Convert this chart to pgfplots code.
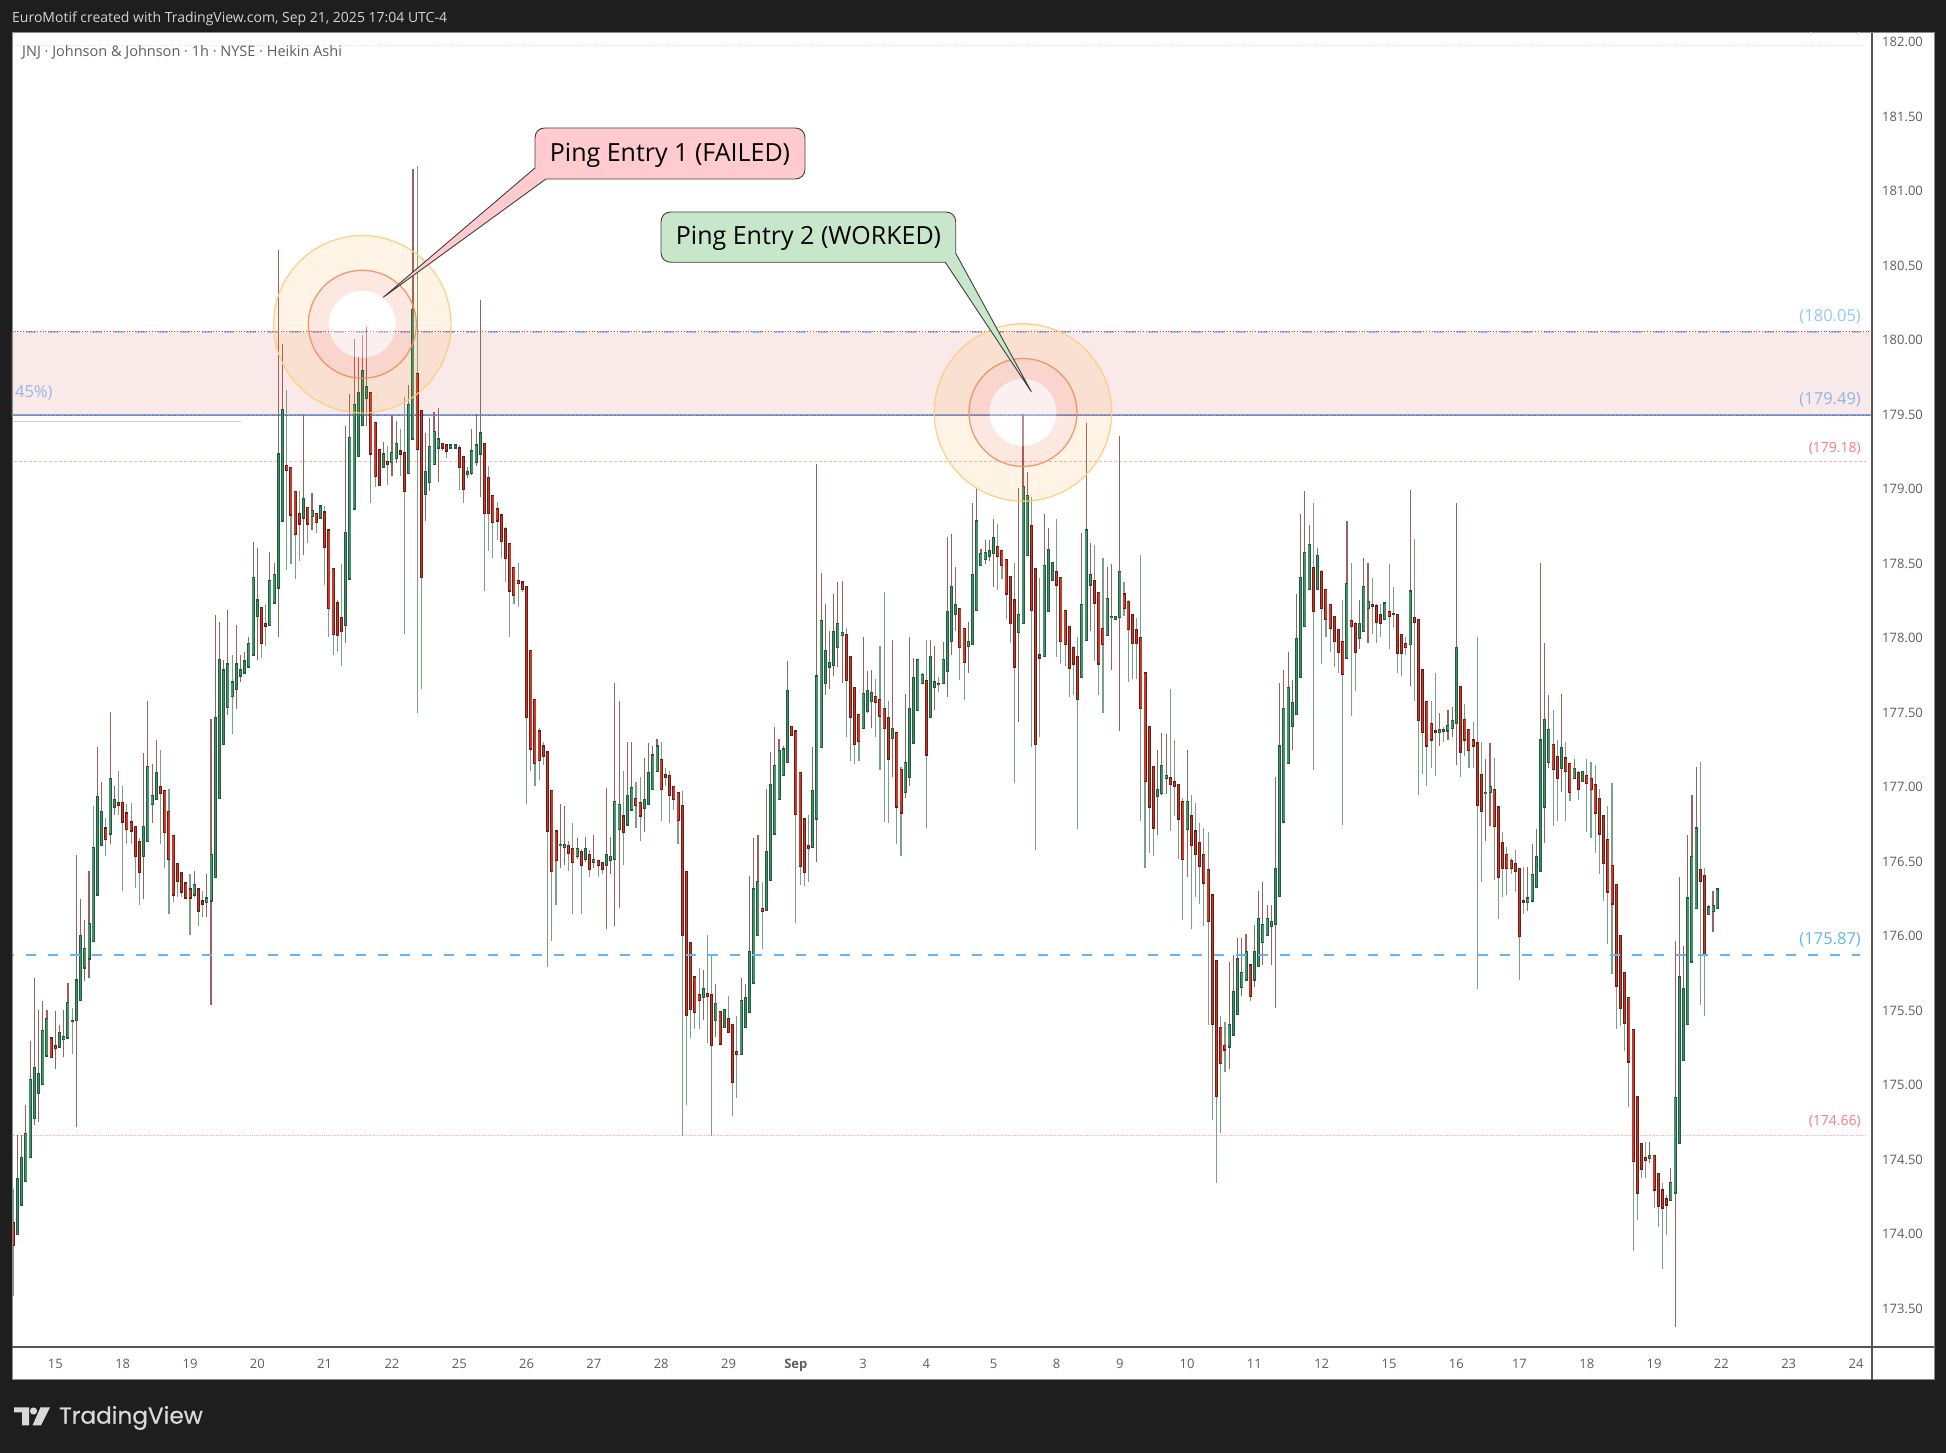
\documentclass[border=0pt]{standalone}
\usepackage{fontspec}
\usepackage{pgfplots}
\usepackage{pgfplotstable}
\pgfplotsset{compat=1.18}
\setmainfont{Open Sans}
\newfontfamily\pop[FakeBold=0.5]{Poppins}
\definecolor{bg}{HTML}{1E1E1E}
\definecolor{panel}{HTML}{8A8A8A}
\definecolor{axisc}{HTML}{555555}
\definecolor{txt}{HTML}{5E5E5E}
\definecolor{upF}{HTML}{46906A}
\definecolor{upD}{HTML}{1F5C3E}
\definecolor{dnF}{HTML}{C93A2C}
\definecolor{dnD}{HTML}{6E1B14}
\definecolor{wR}{HTML}{98625E}
\definecolor{wG}{HTML}{7C9F8C}
\definecolor{blueA}{HTML}{64B5F6}
\definecolor{blueB}{HTML}{90CAF9}
\definecolor{blueC}{HTML}{7BA7E0}
\definecolor{pinkL}{HTML}{FFB3B3}
\definecolor{pinkF}{HTML}{FFDDDD}
\definecolor{redT}{HTML}{F77C80}
\definecolor{band}{HTML}{FAE9E9}
\definecolor{ringA}{HTML}{FF9800}
\definecolor{ringB}{HTML}{F4511E}
\definecolor{edgeA}{HTML}{FFCC80}
\definecolor{edgeB}{HTML}{ED9060}
\definecolor{callR}{HTML}{FFCBCF}
\definecolor{callG}{HTML}{C8E6C9}
\definecolor{lblue}{HTML}{BAD7EC}
\pgfplotstableread{
t b h l g r
174.07 173.92 174.30 173.58 0 0
174.37 173.99 174.66 173.99 1 1
174.51 174.19 174.66 174.19 1 1
174.67 174.35 174.86 174.35 1 1
175.03 174.51 175.29 174.51 1 1
175.11 174.77 175.71 174.73 1 1
175.07 174.94 175.50 174.75 1 1
175.36 175.00 175.56 175.00 1 1
175.44 175.19 175.50 175.19 1 1
175.31 175.18 175.31 175.18 0 1
175.26 175.24 175.49 175.10 0 1
175.35 175.25 175.40 175.25 1 1
175.32 175.30 175.50 175.18 1 1
175.55 175.31 175.68 175.31 1 1
175.43 175.42 175.51 175.20 0 0
175.70 175.43 176.54 174.71 1 1
176.00 175.56 176.24 175.56 1 1
175.91 175.78 176.10 175.69 1 1
176.08 175.84 176.43 175.71 1 1
176.59 175.96 176.87 175.96 1 0
176.93 176.27 177.26 176.27 1 1
176.83 176.60 177.03 176.60 1 1
176.72 176.64 176.79 176.53 0 0
177.05 176.68 177.50 176.61 1 1
176.91 176.86 177.00 176.81 1 1
176.89 176.87 177.10 176.81 0 0
176.89 176.76 177.00 176.30 0 0
176.82 176.71 176.88 176.61 0 0
176.76 176.70 176.89 176.61 0 0
176.73 176.53 176.73 176.32 0 0
176.63 176.42 176.65 176.20 0 0
176.73 176.53 177.22 176.24 1 1
177.13 176.63 177.57 176.63 1 1
176.94 176.88 177.15 176.75 1 1
177.09 176.91 177.31 176.91 1 1
177.00 176.95 177.24 176.61 0 0
176.97 176.69 176.97 176.45 0 0
176.83 176.51 176.98 176.14 0 0
176.67 176.27 176.67 176.22 0 0
176.48 176.36 176.48 176.26 0 0
176.42 176.29 176.42 176.26 0 0
176.35 176.25 176.35 176.25 0 0
176.31 176.25 176.41 176.00 0 0
176.34 176.27 176.43 176.26 1 1
176.31 176.16 176.31 176.06 0 0
176.23 176.21 176.30 176.12 0 0
176.25 176.22 176.41 176.12 1 1
176.54 176.23 177.45 175.53 1 1
177.46 176.39 178.15 176.39 1 1
177.85 176.92 178.10 176.92 1 1
177.78 177.28 177.85 177.28 1 1
177.82 177.53 178.18 177.48 1 1
177.70 177.60 177.88 177.35 1 0
177.82 177.65 178.08 177.52 1 1
177.78 177.74 177.88 177.70 1 1
177.84 177.76 177.90 177.76 1 1
177.96 177.80 178.00 177.80 1 1
178.40 177.88 178.64 177.88 1 1
178.25 178.14 178.60 177.85 1 1
178.20 177.96 178.20 177.86 0 0
178.09 178.07 178.22 177.94 0 0
178.38 178.08 178.57 178.08 1 1
178.42 178.23 178.50 178.23 1 1
179.23 178.33 180.60 178.00 1 1
179.53 178.78 179.97 178.78 1 1
179.15 179.12 179.66 178.45 0 0
179.14 178.82 179.14 178.49 0 0
178.98 178.69 178.98 178.39 0 0
178.83 178.76 178.98 178.51 0 0
178.93 178.80 179.50 178.55 1 1
178.87 178.76 178.87 178.63 0 0
178.85 178.81 178.97 178.72 1 1
178.83 178.77 178.83 178.70 0 0
178.88 178.80 178.88 178.80 1 1
178.84 178.60 178.88 178.35 0 0
178.72 178.19 178.72 178.00 0 0
178.46 178.02 178.46 177.88 0 0
178.23 178.01 178.25 177.90 0 0
178.13 178.04 178.49 177.81 0 0
178.70 178.08 179.42 177.96 1 1
179.34 178.39 179.63 178.39 1 1
179.56 178.86 180.00 178.86 1 1
179.64 179.21 179.88 179.21 1 1
179.79 179.42 180.03 179.42 1 1
179.68 179.60 180.08 179.42 1 1
179.64 179.23 179.64 178.90 0 0
179.44 179.08 179.44 179.01 0 0
179.26 179.02 179.26 179.02 0 0
179.23 179.14 179.31 179.14 1 1
179.18 179.16 179.28 179.02 0 0
179.24 179.17 179.49 179.08 1 1
179.30 179.20 179.45 179.17 1 1
179.25 179.23 179.40 179.08 0 0
179.24 178.98 179.61 178.02 0 0
179.56 179.10 179.69 179.10 1 1
180.20 179.33 181.14 179.33 1 1
179.77 179.26 181.16 177.49 0 0
179.52 178.40 179.52 177.65 0 0
179.11 178.96 179.37 178.78 1 1
179.28 179.04 179.47 178.98 1 1
179.38 179.16 179.51 179.16 1 1
179.33 179.27 179.54 179.04 1 1
179.30 179.27 179.30 179.25 0 0
179.29 179.25 179.29 179.20 0 0
179.29 179.27 179.29 179.27 1 1
179.29 179.27 179.29 179.27 1 1
179.27 179.14 179.29 178.99 0 0
179.21 178.99 179.21 178.90 0 0
179.11 179.09 179.14 179.07 1 1
179.25 179.10 179.40 179.09 1 1
179.29 179.17 179.50 179.15 1 1
179.37 179.23 180.26 178.94 1 1
179.30 178.83 179.30 178.31 0 0
179.07 178.83 179.15 178.58 0 0
178.95 178.77 178.95 178.53 0 0
178.86 178.78 178.91 178.65 0 0
178.82 178.64 178.82 178.53 0 0
178.73 178.53 178.74 178.37 0 0
178.63 178.31 178.63 178.00 0 0
178.47 178.28 178.47 178.22 0 0
178.38 178.36 178.50 178.20 0 0
178.37 178.32 178.37 178.30 0 0
178.34 177.46 178.34 176.88 0 0
177.91 177.25 177.91 177.10 0 0
177.58 177.15 177.58 177.00 0 0
177.37 177.17 177.39 177.04 0 0
177.27 177.20 177.30 177.14 0 0
177.23 176.70 177.23 175.79 0 0
176.97 176.43 176.97 175.96 0 0
176.70 176.50 176.70 176.20 0 0
176.61 176.60 176.88 176.45 1 1
176.61 176.59 176.87 176.47 1 1
176.60 176.55 176.63 176.43 0 0
176.58 176.49 176.75 176.14 0 0
176.58 176.53 176.65 176.51 1 1
176.56 176.47 176.58 176.14 0 0
176.58 176.51 176.66 176.49 1 1
176.54 176.44 176.57 176.39 0 0
176.51 176.49 176.67 176.45 1 1
176.50 176.47 176.50 176.39 0 0
176.49 176.44 176.49 176.41 0 0
176.54 176.47 176.99 176.04 1 1
176.53 176.50 176.66 176.41 1 1
176.90 176.51 177.69 176.06 1 1
176.88 176.71 177.57 176.18 1 1
176.80 176.69 177.10 176.47 0 0
176.94 176.74 177.30 176.73 1 1
176.99 176.84 177.30 176.84 1 1
176.92 176.87 177.03 176.72 0 0
176.89 176.80 177.06 176.63 0 0
176.91 176.85 177.19 176.69 1 1
177.09 176.88 177.29 176.88 1 1
177.21 176.98 177.27 176.98 1 1
177.27 177.10 177.32 177.10 1 1
177.18 176.98 177.30 176.77 0 0
177.08 177.06 177.12 177.00 0 0
177.07 176.94 177.10 176.75 0 0
177.00 176.91 177.00 176.84 0 0
176.96 176.77 176.96 176.61 0 0
176.87 176.00 176.97 174.65 0 0
176.43 175.46 176.43 174.86 0 0
175.95 175.50 175.95 175.31 0 0
175.72 175.48 175.72 175.37 0 0
175.60 175.56 175.78 175.37 0 0
175.64 175.58 175.77 175.43 1 1
175.61 175.59 176.00 175.28 0 0
175.60 175.26 175.87 174.65 0 0
175.54 175.43 175.67 175.32 1 1
175.49 175.27 175.49 175.27 0 0
175.50 175.38 175.50 175.38 1 1
175.44 175.35 175.59 175.35 0 0
175.40 175.01 175.40 174.79 0 0
175.22 175.20 175.46 174.91 0 0
175.56 175.20 175.71 175.20 1 1
175.58 175.38 175.67 175.38 1 1
175.89 175.48 176.40 175.48 1 1
176.31 175.68 176.65 175.68 1 1
176.36 176.00 176.67 176.00 1 1
176.18 176.16 176.36 175.91 0 0
176.56 176.17 176.98 176.17 1 1
177.01 176.37 177.23 176.37 1 1
177.14 176.68 177.40 176.68 1 1
177.24 176.91 177.32 176.91 1 1
177.25 177.07 177.27 177.07 1 1
177.64 177.16 177.84 177.16 1 1
177.40 177.34 177.40 177.34 0 0
177.37 176.81 177.37 176.08 0 0
177.09 176.46 177.09 176.34 0 0
176.78 176.42 176.78 176.33 0 0
176.60 176.58 176.81 176.36 0 0
176.97 176.59 177.26 176.59 1 1
177.74 176.78 179.16 176.49 1 1
178.11 177.26 178.43 177.26 1 1
177.91 177.69 178.22 177.61 1 1
177.83 177.80 178.04 177.65 1 1
178.04 177.81 178.29 177.74 1 1
178.09 177.93 178.37 177.80 1 1
178.03 178.01 178.38 177.69 1 1
178.02 177.71 178.06 177.33 0 0
177.87 177.46 177.87 177.17 0 0
177.66 177.28 177.66 177.15 0 0
177.48 177.30 177.48 177.17 0 0
177.62 177.39 178.00 177.39 1 1
177.64 177.50 177.77 177.49 1 1
177.63 177.57 177.78 177.39 1 1
177.60 177.56 177.72 177.33 0 0
177.58 177.47 177.94 177.11 0 0
177.52 177.39 178.30 176.76 0 0
177.46 177.18 177.57 176.75 0 0
177.39 177.32 177.98 177.06 1 1
177.36 176.86 177.36 176.61 0 0
177.11 176.82 177.13 176.53 0 0
177.16 176.96 177.62 176.92 1 1
177.52 177.06 178.00 177.00 1 1
177.73 177.29 177.86 177.29 1 1
177.85 177.51 177.85 177.51 1 1
177.75 177.69 177.76 177.69 1 1
177.71 177.21 177.98 176.72 0 0
177.87 177.46 177.98 177.46 1 1
177.70 177.66 177.94 177.51 1 1
177.69 177.68 177.73 177.63 0 0
177.85 177.69 177.97 177.69 1 1
178.17 177.77 178.67 177.60 1 1
178.34 177.97 178.69 177.88 1 1
178.22 178.15 178.47 178.04 1 1
178.19 177.93 178.19 177.71 0 0
178.06 177.83 178.06 177.58 0 0
177.97 177.94 178.10 177.76 1 1
178.42 177.95 178.90 177.95 1 1
178.78 178.18 179.00 178.18 1 1
178.56 178.48 178.59 178.48 1 1
178.57 178.52 178.65 178.49 1 1
178.58 178.54 178.65 178.51 1 1
178.67 178.56 178.79 178.34 1 1
178.61 178.54 178.76 178.32 0 0
178.58 178.48 178.58 178.39 0 0
178.52 178.29 178.52 178.12 0 0
178.41 178.09 178.41 177.96 0 0
178.25 177.80 178.50 177.02 0 0
178.15 178.03 179.00 177.43 1 1
179.01 178.09 179.50 178.09 1 1
178.95 178.55 179.11 178.55 1 1
178.75 178.18 178.94 177.26 0 0
178.46 177.28 178.46 176.57 0 0
177.88 177.86 178.40 177.33 0 0
178.48 177.87 178.83 177.87 1 1
178.59 178.17 178.73 178.17 1 1
178.50 178.38 178.50 178.38 1 1
178.44 178.35 178.79 177.87 0 0
178.40 177.97 178.40 177.82 0 0
178.18 177.95 178.18 177.81 0 0
178.07 177.79 178.07 177.60 0 0
177.93 177.82 177.94 177.61 0 0
177.87 177.58 178.00 176.71 0 0
178.22 177.73 178.70 177.73 1 1
178.72 177.98 179.44 177.98 1 1
178.42 178.35 178.63 178.04 1 1
178.38 178.23 178.62 177.84 0 0
178.30 177.82 178.30 177.61 0 0
178.06 177.95 178.53 177.49 0 0
178.26 178.01 178.47 178.01 1 1
178.14 178.13 178.49 177.78 1 1
178.14 178.12 178.14 178.12 1 1
178.44 178.13 179.35 177.37 1 1
178.29 178.19 178.37 178.14 0 0
178.24 178.05 178.25 177.70 0 0
178.15 177.96 178.15 177.72 0 0
178.05 177.96 178.13 177.72 0 0
178.00 177.52 178.55 176.77 0 0
177.76 177.03 177.76 176.45 0 0
177.40 176.86 177.40 176.55 0 0
177.13 176.72 177.13 176.53 0 0
176.98 176.93 177.24 176.67 1 1
177.14 176.95 177.36 176.94 1 1
177.07 177.05 177.35 176.95 1 1
177.06 177.01 177.65 176.70 0 0
177.03 177.00 177.31 176.80 0 0
177.01 176.78 177.01 176.51 0 0
176.90 176.51 176.92 176.10 0 0
176.90 176.71 177.24 176.39 1 1
176.80 176.60 176.94 176.04 0 0
176.70 176.54 176.89 176.26 0 0
176.62 176.46 176.75 176.21 0 0
176.54 176.35 176.72 176.06 0 0
176.44 176.09 176.69 175.40 0 0
176.27 175.40 176.27 174.76 0 0
175.83 174.92 175.83 174.34 0 0
175.38 175.14 175.46 174.67 0 0
175.26 175.23 175.42 175.08 0 0
175.40 175.25 175.82 175.10 1 1
175.62 175.33 175.87 175.33 1 1
175.84 175.47 175.98 175.47 1 1
175.75 175.65 175.98 175.59 1 1
175.89 175.70 176.01 175.70 1 1
175.80 175.59 175.80 175.56 0 0
175.89 175.70 176.07 175.65 1 1
176.11 175.79 176.30 175.79 1 1
176.07 175.95 176.36 175.80 1 1
176.11 176.00 176.20 176.00 1 1
176.09 176.06 176.20 175.80 1 1
176.45 176.07 177.06 175.51 1 1
177.27 176.26 177.69 176.26 1 1
177.52 176.76 177.78 176.76 1 1
177.66 177.15 177.90 177.15 1 1
177.56 177.40 177.71 177.24 1 1
177.99 177.48 178.29 177.48 1 1
178.40 177.73 178.83 177.73 1 1
178.57 178.07 178.98 178.07 1 1
178.62 178.32 178.75 178.32 1 1
178.47 178.17 178.90 177.11 0 0
178.55 178.32 178.60 178.32 1 1
178.44 178.19 178.45 177.82 0 0
178.32 178.12 178.32 178.00 0 0
178.22 178.06 178.22 177.90 0 0
178.14 177.97 178.14 177.80 0 0
178.05 177.90 178.05 177.76 0 0
177.97 177.75 178.25 176.74 0 0
178.36 177.86 178.78 177.86 1 1
178.11 178.07 178.50 177.47 0 0
178.09 177.90 178.10 177.64 0 0
178.09 177.99 178.25 177.92 1 1
178.34 178.04 178.53 178.04 1 1
178.24 178.19 178.50 177.96 1 1
178.22 178.21 178.40 178.02 0 0
178.21 178.10 178.22 177.96 0 0
178.15 178.09 178.22 178.00 0 0
178.23 178.12 178.23 178.12 1 1
178.17 178.14 178.49 177.92 0 0
178.16 178.15 178.34 178.06 0 0
178.15 177.89 178.15 177.76 0 0
178.02 177.89 178.02 177.74 0 0
177.96 177.93 178.00 177.88 0 0
178.31 177.95 178.99 177.67 1 1
178.13 178.10 178.66 177.57 0 0
178.12 177.44 178.12 176.94 0 0
177.78 177.36 177.78 177.08 0 0
177.57 177.27 177.57 177.00 0 0
177.42 177.31 177.57 177.12 0 0
177.37 177.36 177.76 177.07 0 0
177.38 177.36 177.49 177.27 1 1
177.38 177.37 177.40 177.30 0 0
177.41 177.37 177.51 177.31 1 1
177.44 177.39 177.53 177.33 1 1
177.93 177.42 178.90 177.14 1 1
177.67 177.23 177.67 177.06 0 0
177.45 177.31 177.55 177.20 0 0
177.38 177.24 177.38 177.12 0 0
177.31 177.27 177.43 177.12 0 0
177.29 176.87 178.00 175.64 0 0
177.08 176.83 177.30 176.36 0 0
176.96 176.95 177.18 176.63 1 1
177.00 176.96 177.29 176.73 1 1
176.98 176.73 177.19 176.37 0 0
176.86 176.39 176.86 176.11 0 0
176.62 176.45 176.69 176.26 0 0
176.54 176.45 176.59 176.27 0 0
176.50 176.45 176.52 176.41 0 0
176.48 176.43 176.57 176.29 0 0
176.45 175.99 176.45 175.70 0 0
176.23 176.22 176.46 176.14 0 0
176.25 176.22 176.46 176.16 1 1
176.41 176.23 176.61 176.23 1 1
176.53 176.32 176.71 176.32 1 1
177.31 176.43 178.50 176.43 1 1
177.45 176.86 177.96 176.62 1 1
177.38 177.16 177.61 177.12 1 1
177.28 177.11 177.51 176.73 0 0
177.20 177.05 177.31 176.77 0 0
177.26 177.12 177.62 176.96 1 1
177.19 177.10 177.30 176.77 0 0
177.15 176.96 177.15 176.90 0 0
177.12 177.05 177.18 177.05 1 1
177.09 176.98 177.10 176.91 0 0
177.10 177.03 177.10 177.03 1 1
177.07 177.02 177.18 176.69 0 0
177.05 176.98 177.16 176.65 0 0
177.01 176.82 177.14 176.55 0 0
176.92 176.68 176.98 176.41 0 0
176.80 176.48 176.80 176.23 0 0
176.64 176.29 176.87 175.94 0 0
176.47 176.21 177.02 175.74 0 0
176.34 175.66 176.34 175.37 0 0
176.00 175.51 176.00 175.39 0 0
175.75 175.41 175.75 175.22 0 0
175.58 175.15 175.58 174.85 0 0
175.37 174.48 175.37 173.88 0 0
174.92 174.27 174.92 174.09 0 0
174.60 174.43 174.60 174.37 0 0
174.51 174.49 174.61 174.37 0 0
174.52 174.50 174.61 174.47 1 1
174.52 174.29 174.52 174.17 0 0
174.40 174.18 174.40 174.04 0 0
174.29 174.17 174.34 173.76 0 0
174.23 174.19 174.26 173.99 0 0
174.34 174.22 174.44 174.22 1 1
174.91 174.27 175.96 173.37 1 1
175.72 174.60 176.39 174.60 1 1
175.64 175.16 175.93 175.16 1 1
176.25 175.40 176.67 175.40 1 1
176.53 175.82 176.94 175.82 1 1
176.72 176.18 177.13 176.18 1 1
176.44 176.36 177.16 175.53 0 0
176.40 175.87 176.45 175.46 0 0
176.19 176.14 176.20 176.14 1 1
176.20 176.16 176.30 176.02 1 1
176.31 176.18 176.32 176.18 1 1
}\candles
\begin{document}
\begin{tikzpicture}[x=1pt,y=1pt]
\useasboundingbox (0,0) rectangle (1946,1453);
\fill[bg] (0,0) rectangle (1946,1453);
\fill[white] (12,73) rectangle (1934,1420);
\begin{axis}[
 at={(12pt,106pt)},anchor=south west,scale only axis,width=1860pt,height=1314pt,
 xmin=-0.31,xmax=441.8,ymin=173.237,ymax=182.055,
 axis line style={draw=none},tick style={draw=none},major tick length=0pt,
 xtick={10,26,42,58,74,90,106,122,138,154,170,186,202,217,233,248,263,279,295,311,327,343,358,374,390,406,422,438},
 xticklabels={15,18,19,20,21,22,25,26,27,28,29,\textbf{Sep},3,4,5,8,9,10,11,12,15,16,17,18,19,22,23,24},
 ytick={173.5,174,...,182},
 yticklabel pos=right,
 tick label style={font=\fontsize{13}{15}\selectfont,text=txt,inner sep=0pt},
 yticklabel style={anchor=west,xshift=10pt,yshift=-1pt,/pgf/number format/.cd,fixed,fixed zerofill,precision=2,assume math mode=true},
 xticklabel style={anchor=north,yshift=-12pt,/pgf/number format/assume math mode=true},
 unbounded coords=discard,
 candlew/.style={draw=none,mark=none,forget plot,error bars/.cd,y dir=plus,y explicit,error mark=none,error bar style={solid,line cap=butt,line width=#1}},
]
\addplot[fill=band,draw=none,forget plot] coordinates {(-1,179.49)(443,179.49)(443,180.05)(-1,180.05)} --cycle;
\addplot[pinkF,line width=0.8pt,densely dotted,forget plot] coordinates {(-1,181.97)(440,181.97)};
\addplot[pinkL,line width=1pt,densely dashed,forget plot] coordinates {(-1,179.18)(440.3,179.18)};
\addplot[pinkL,line width=0.8pt,densely dotted,forget plot] coordinates {(-1,174.66)(440.3,174.66)};
\addplot[blueB,line width=2pt,dash pattern=on 10pt off 12pt,dash phase=-13pt,forget plot] coordinates {(0,180.05)(439,180.05)};
\addplot[red!85!white,line width=.8pt,dotted,forget plot] coordinates {(-1,180.05)(443,180.05)};
\addplot[blueC,line width=1.6pt,forget plot] coordinates {(-1,179.49)(443,179.49)};
\addplot[red!70!black,opacity=.5,line width=0.6pt,dotted,forget plot] coordinates {(-1,179.49)(443,179.49)};
\addplot[lblue,line width=1pt,forget plot] coordinates {(-1,179.45)(54.1,179.45)};
\addplot[candlew=1.1pt,/pgfplots/error bars/error bar style={draw=wR}] table[x expr={\thisrow{r}==1?\coordindex:nan},y expr=\thisrow{l},y error plus expr={\thisrow{h}-\thisrow{l}}] {\candles};
\addplot[candlew=1.1pt,/pgfplots/error bars/error bar style={draw=wG}] table[x expr={\thisrow{r}==0?\coordindex:nan},y expr=\thisrow{l},y error plus expr={\thisrow{h}-\thisrow{l}}] {\candles};
\addplot[candlew=3pt,/pgfplots/error bars/error bar style={draw=upD}] table[x expr={\thisrow{g}==1?\coordindex:nan},y expr=\thisrow{b}-0.004,y error plus expr={\thisrow{t}-\thisrow{b}+0.008}] {\candles};
\addplot[candlew=3pt,/pgfplots/error bars/error bar style={draw=dnD}] table[x expr={\thisrow{g}==0?\coordindex:nan},y expr=\thisrow{b}-0.004,y error plus expr={\thisrow{t}-\thisrow{b}+0.008}] {\candles};
\addplot[candlew=1.5pt,/pgfplots/error bars/error bar style={draw=upF}] table[x expr={\thisrow{g}==1?\coordindex:nan},y expr=\thisrow{b}+0.004,y error plus expr={max(\thisrow{t}-\thisrow{b}-0.008,0)}] {\candles};
\addplot[candlew=1.5pt,/pgfplots/error bars/error bar style={draw=dnF}] table[x expr={\thisrow{g}==0?\coordindex:nan},y expr=\thisrow{b}+0.004,y error plus expr={max(\thisrow{t}-\thisrow{b}-0.008,0)}] {\candles};
\addplot[blueA,line width=2pt,dash pattern=on 10pt off 12pt,dash phase=-13pt,forget plot] coordinates {(0,175.87)(439,175.87)};
\end{axis}
\begin{scope}[x=1pt,y=-1pt,shift={(0,1453pt)}]
% frame
\draw[panel,line width=1pt] (12,33) rectangle (1934,1380);
\draw[axisc,line width=1.4pt] (1872,33) -- (1872,1380);
\draw[axisc,line width=1.4pt] (12,1347) -- (1934,1347);
% circles
\foreach \cx/\cy in {362.3/324.3,1023/412.5}{
 \fill[ringA,opacity=.1,even odd rule] (\cx,\cy) circle[radius=88.7pt] (\cx,\cy) circle[radius=54pt];
 \fill[ringB,opacity=.13,even odd rule] (\cx,\cy) circle[radius=54pt] (\cx,\cy) circle[radius=33.5pt];
 \fill[white,opacity=.3] (\cx,\cy) circle[radius=33.5pt];
 \draw[edgeA,opacity=.9,line width=1.3pt] (\cx,\cy) circle[radius=88.7pt];
 \draw[edgeB,opacity=.9,line width=1.3pt] (\cx,\cy) circle[radius=54pt];
}
% callouts
\filldraw[fill=callR,draw=black!75,line width=.9pt,line join=round] (545,128) -- (795,128) .. controls (801,128) and (805,132) .. (805,138) -- (805,169) .. controls (805,175) and (801,179) .. (795,179) -- (546,179) -- (383.3,297.3) -- (535,168) -- (535,138) .. controls (535,132) and (539,128) .. (545,128) -- cycle;
\filldraw[fill=callG,draw=black!75,line width=.9pt,line join=round] (671,212) -- (945.7,212) .. controls (951.7,212) and (955.7,216) .. (955.7,222) -- (955.7,253.3) -- (1031.3,391.7) -- (945.3,262.3) -- (671,262.3) .. controls (665,262.3) and (661,258.3) .. (661,252.3) -- (661,222) .. controls (661,216) and (665,212) .. (671,212) -- cycle;
\node[anchor=center,inner sep=0pt,text=black] at (670,155) {\fontsize{25}{28}\selectfont Ping Entry 1 (FAILED)};
\node[anchor=center,inner sep=0pt,text=black] at (808.5,238.5) {\fontsize{25}{28}\selectfont Ping Entry 2 (WORKED)};
% price labels
\newcommand\pl[4]{\node[anchor=east,inner sep=0pt,text=#1] at (1861,#2) {\fontsize{#3}{#3}\selectfont #4};}
\pl{blueB}{317}{16.5}{(180.05)}
\pl{blueC!85!white}{400}{16.5}{(179.49)}
\pl{redT}{449}{14}{(179.18)}
\pl{blueA}{939.5}{16.5}{(175.87)}
\pl{redT}{1122}{14}{(174.66)}
\node[anchor=west,inner sep=0pt,text=blueC!80!white] at (15,393) {\fontsize{16.5}{17}\selectfont 45\%)};
\begin{scope}
\clip (12,33) rectangle (1872,60);
\pl{pinkL}{29}{14}{(181.97)}
\end{scope}
% texts
\node[anchor=west,inner sep=0pt,text=black!17] at (12,19) {\fontsize{14}{16}\selectfont EuroMotif created with TradingView.com, Sep 21, 2025 17:04 UTC-4};
\node[anchor=west,inner sep=0pt,text=txt] at (22,52) {\fontsize{14.5}{16}\selectfont JNJ · Johnson \& Johnson · 1h · NYSE · Heikin Ashi};
% logo
\fill[black!15] (14,1407.3) -- (29,1407.3) -- (29,1425.5) -- (22,1425.5) -- (22,1412.5) -- (14,1412.5) -- cycle;
\fill[black!15] (33.5,1411) circle[radius=3.6pt];
\fill[black!15] (40.5,1407.3) -- (50,1407.3) -- (41,1425.5) -- (32.5,1425.5) -- cycle;
\node[anchor=west,inner sep=0pt,text=black!15] at (59,1418) {\pop\fontsize{23.2}{26}\selectfont TradingView};
\end{scope}
\end{tikzpicture}
\end{document}
